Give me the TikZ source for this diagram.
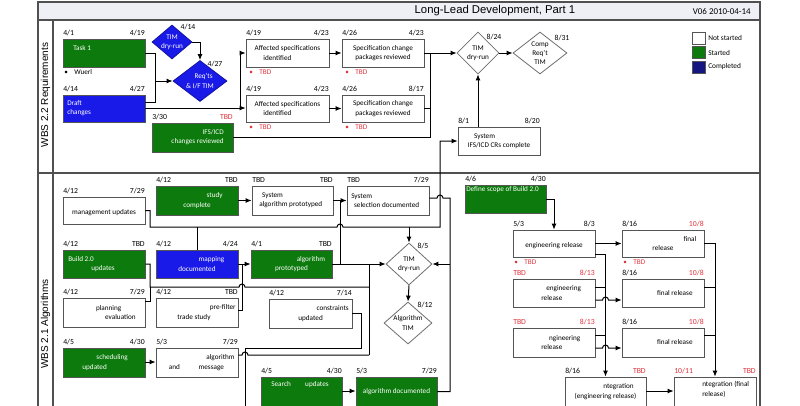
\documentclass[tikz,border=0pt]{standalone}
\usepackage{fontspec}
\setmainfont{Carlito}
\newfontfamily\arialfont{Liberation Sans}
\usetikzlibrary{shapes.geometric,arrows.meta}
\definecolor{gr}{RGB}{12,122,12}
\definecolor{bl}{RGB}{26,26,232}
\definecolor{navy}{RGB}{22,22,130}
\definecolor{tbd}{RGB}{222,50,60}
\definecolor{boxline}{RGB}{85,85,85}
\definecolor{dline}{RGB}{110,110,110}
\definecolor{framec}{RGB}{80,80,80}
\definecolor{titlebg}{RGB}{238,240,246}
\tikzset{
  box/.style={draw=boxline, line width=0.6pt, inner sep=0pt, font=\fontsize{5.4}{7}\selectfont, align=center},
  wbox/.style={box, fill=white},
  gbox/.style={box, fill=gr, text=white},
  bbox/.style={box, fill=bl, text=white},
  txt/.style={font=\fontsize{5.4}{7}\selectfont, inner sep=0pt, align=left},
  dt/.style={font=\fontsize{5.8}{7}\selectfont, inner sep=0pt},
  dmd/.style={diamond, draw=dline, line width=0.6pt, fill=white, inner sep=0pt},
  dlab/.style={font=\fontsize{5.4}{7}\selectfont, inner sep=0pt, align=center},
  con/.style={line width=0.75pt, draw=black},
  arr/.style={con, -{Latex[length=4.5pt,width=3.8pt]}},
  note/.style={font=\fontsize{5.4}{7}\selectfont, inner sep=0pt, anchor=west},
  framel/.style={draw=framec, line width=0.9pt},
  legsw/.style={draw=boxline, line width=0.6pt, inner sep=0pt, minimum width=9.75pt, minimum height=9pt},
  legt/.style={font=\fontsize{5.5}{7}\selectfont, inner sep=0pt, anchor=west}
}
\newcommand\bx[9]{%
  \node[#6, minimum width={(#4-#2)*0.75pt}, minimum height={(#5-#3)*0.75pt}] (#1) at ({(#2+#4)/2},{(#3+#5)/2}) {#7};
  \node[dt, anchor=base west] (#1-l) at (#2,#3-3.5) {#8};
  \node[dt, anchor=base east] (#1-r) at (#4,#3-3.5) {#9};}
\begin{document}
\begin{tikzpicture}[x=0.75pt,y=-0.75pt]
\useasboundingbox (0,0) rectangle (800,405);
\clip (0,0) rectangle (800,405);
% frame
\draw[framel] (38,2) rectangle (760,430);
\draw[framel, fill=titlebg] (38,2) rectangle (760,20);
\draw[framel] (53,20) -- (53,430);
\draw[framel] (38,173) -- (760,173);
\node[font=\arialfont\fontsize{8.5}{10}\selectfont, inner sep=0pt] (title) at (495,11) {Long-Lead Development, Part 1};
\node[font=\fontsize{6.7}{8}\selectfont, inner sep=0pt, anchor=east] (ver) at (751,12) {V06 2010-04-14};
\node[rotate=90, font=\arialfont\fontsize{7.5}{9}\selectfont, inner sep=0pt] (lane1) at (45.5,95) {WBS 2.2 Requirements};
\node[rotate=90, font=\arialfont\fontsize{7.5}{9}\selectfont, inner sep=0pt] (lane2) at (45.5,324) {WBS 2.1 Algorithms};
% legend
\node[legsw, fill=white] (lg1) at (698.5,38) {};
\node[legsw, fill=gr] (lg2) at (698.5,52.5) {};
\node[legsw, fill=navy] (lg3) at (698.5,67) {};
\node[legt] (lg1t) at (708,38) {Not started};
\node[legt] (lg2t) at (708,52.5) {Started};
\node[legt] (lg3t) at (708,67) {Completed};

% ---------- lane 1 ----------
\bx{task1}{63}{39}{145}{67}{gbox}{}{4/1}{4/19}
\node[txt, text=white, anchor=west] (task1t) at (73,48) {Task 1};
\node[note] (wuerl) at (64,72) {\textbullet\hspace{0.9em}Wuerl};
\bx{draft}{63}{95}{145}{122}{bbox}{}{4/14}{4/27}
\node[txt, text=white, anchor=west] (draftt) at (67,108) {Draft\\changes};
\bx{ifs}{152}{123}{233}{152}{gbox}{}{3/30}{\textcolor{tbd}{TBD}}
\node[txt, text=white, anchor=east, align=right] (ifst) at (224,137) {IFS/ICD\\changes reviewed};

\node[dmd, fill=bl, draw=bl!70!black, minimum width=30pt, minimum height=25.5pt,
  label={[dlab, text=white]center:TIM\\dry-run}] (tim1) at (172,42) {};
\node[dt] (tim1d) at (188,27) {4/14};
\node[dmd, fill=bl, draw=bl!70!black, minimum width=40.5pt, minimum height=30.75pt,
  label={[dlab, text=white]center:\hspace*{1em}Req'ts\\\& I/F TIM}] (req) at (200,81) {};
\node[dt] (reqd) at (215,64) {4/27};

\bx{aff1}{246}{39}{329}{67}{wbox}{Affected specifications\\identified\hspace*{2.8em}}{4/19}{4/23}
\node[note, text=tbd] (aff1n) at (249,72) {\textbullet\hspace{0.9em}TBD};
\bx{spec1}{342}{39}{424}{67}{wbox}{Specification change\\packages reviewed}{4/26}{4/23}
\node[note, text=tbd] (spec1n) at (345,72) {\textbullet\hspace{0.9em}TBD};
\bx{aff2}{246}{95}{329}{122}{wbox}{Affected specifications\\identified\hspace*{2.8em}}{4/19}{4/23}
\node[note, text=tbd] (aff2n) at (249,127) {\textbullet\hspace{0.9em}TBD};
\bx{spec2}{342}{95}{424}{122}{wbox}{Specification change\\packages reviewed}{4/26}{8/17}
\node[note, text=tbd] (spec2n) at (345,127) {\textbullet\hspace{0.9em}TBD};

\node[dmd, minimum width=31.5pt, minimum height=31.5pt, label={[dlab]center:TIM\\dry-run}] (tim3) at (478,53) {};
\node[dt] (tim3d) at (494,37) {8/24};
\node[dmd, minimum width=40.5pt, minimum height=31.5pt, label={[dlab]center:Comp\\Req't\\TIM}] (comp) at (540,53) {};
\node[dt] (compd) at (562,38) {8/31};
\bx{sysifs}{458}{127}{540}{155}{wbox}{System\hspace*{4em}\\IFS/ICD CRs complete}{8/1}{8/20}

% lane 1 connectors
\draw[con] (task1.east) -| (155,81);
\draw[con] (draft.east |- 0,102) -| (155,81);
\draw[arr] (155,81) -- (req.west);
\draw[arr] (tim1.east) -| (req.north);
\draw[arr] (draft.east |- 0,108) -- (aff2.west |- 0,108);
\draw[arr] (240,108) |- (aff1.west);
\draw[arr] (aff1) -- (spec1);
\draw[arr] (aff2) -- (spec2);
\draw[arr] (spec1.east) -- (tim3.west);
\draw[con] (spec2.east) -| (430,53);
\draw[con] (ifs.east) -| (430,108);
\draw[arr] (tim3) -- (comp);
\draw[arr] (tim3.south |- sysifs.north) -- (tim3.south);

% ---------- lane 2 ----------
\bx{mgmt}{63}{197}{145}{224}{wbox}{\mbox{}\\management updates}{4/12}{7/29}
\bx{study}{156}{186}{238}{215}{gbox}{\hspace*{4.9em}study\\complete}{4/12}{TBD}
\bx{salg}{252}{186}{333}{215}{wbox}{}{TBD}{TBD}
\node[txt, anchor=west] (salgt) at (259,200.5) {\hspace*{0.4em}System\\algorithm prototyped};
\bx{ssel}{347}{186}{429}{215}{wbox}{}{TBD}{7/29}
\node[txt, anchor=west] (sselt) at (351,200.5) {System\\\hspace*{0.4em}selection documented};

\bx{build}{63}{250}{145}{278}{gbox}{}{4/12}{TBD}
\node[txt, text=white, anchor=west] (buildt) at (68,264) {Build 2.0\\\hspace*{3.2em}updates};
\bx{map}{156}{250}{238}{278}{bbox}{\hspace*{4em}mapping\\documented}{4/12}{4/24}
\bx{aproto}{251}{250}{332}{278}{gbox}{\hspace*{5.4em}algorithm\\prototyped}{4/1}{TBD}

\bx{plan}{63}{298}{145}{327}{wbox}{}{4/12}{7/29}
\node[txt, anchor=east, align=right] (plant) at (136,312.5) {planning\hspace*{2em}\\evaluation};
\bx{pref}{156}{298}{238}{327}{wbox}{}{4/12}{TBD}
\node[txt, anchor=east, align=right] (preft) at (236,312.5) {pre-filter\\trade study\hspace*{3.5em}};
\bx{constr}{269}{299}{352}{328}{wbox}{}{4/12}{7/14}
\node[txt, anchor=east, align=right] (constrt) at (349,313.5) {constraints\\updated\hspace*{3.6em}};

\bx{sched}{63}{348}{145}{377}{gbox}{}{4/5}{4/30}
\node[txt, text=white, anchor=east, align=right] (schedt) at (128,362.5) {scheduling\\updated\hspace*{2.9em}};
\bx{algmsg}{156}{348}{238}{377}{wbox}{}{5/3}{7/29}
\node[txt, anchor=east, align=right] (algmsgt) at (235,362.5) {algorithm\\and\hspace*{2.6em}message\hspace*{1.5em}};

\bx{search}{261}{377}{342}{406}{gbox}{}{4/5}{4/30}
\node[txt, text=white, anchor=west] (searcht) at (271,385) {Search\hspace*{2em}updates};
\bx{adoc}{356}{377}{437}{406}{gbox}{algorithm documented}{5/3}{7/29}

\node[dmd, minimum width=34.5pt, minimum height=31.5pt, label={[dlab]center:TIM\\dry-run}] (tim2) at (409,264) {};
\node[dt] (tim2d) at (423,246) {8/5};
\node[dmd, minimum width=36pt, minimum height=31.5pt, label={[dlab]center:Algorithm\\TIM}] (atim) at (408,323) {};
\node[dt] (atimd) at (425,305) {8/12};

\bx{scope}{465}{185}{546}{213}{gbox}{}{4/6}{4/30}
\node[txt, text=white, anchor=west] (scopet) at (466,190) {Define scope of Build 2.0};
\bx{eng1}{513}{230}{595}{257}{wbox}{\mbox{}\\engineering release}{5/3}{8/3}
\node[note, text=tbd] (eng1n) at (514,262) {\textbullet\hspace{0.9em}TBD};
\bx{fin1}{622}{230}{704}{257}{wbox}{\hspace*{7.5em}final\\release}{8/16}{\textcolor{tbd}{10/8}}
\node[note, text=tbd] (fin1n) at (623,262) {\textbullet\hspace{0.9em}TBD};
\bx{eng2}{513}{279}{595}{307}{wbox}{}{\textcolor{tbd}{TBD}}{\textcolor{tbd}{8/13}}
\node[txt, anchor=west] (eng2t) at (541,293) {\hspace*{0.7em}engineering\\release};
\bx{fin2}{622}{279}{704}{307}{wbox}{\hspace*{3.3em}final release}{8/16}{\textcolor{tbd}{10/8}}
\bx{eng3}{513}{328}{595}{357}{wbox}{}{\textcolor{tbd}{TBD}}{\textcolor{tbd}{8/13}}
\node[txt, anchor=west] (eng3t) at (541,342.5) {\hspace*{1.1em}ngineering\\release};
\bx{fin3}{622}{328}{704}{357}{wbox}{\hspace*{3.3em}final release}{8/16}{\textcolor{tbd}{10/8}}
\bx{inte}{565}{377}{646}{406}{wbox}{\hspace*{3.6em}ntegration\\(engineering release)}{8/16}{\textcolor{tbd}{TBD}}
\bx{intf}{674}{377}{756}{406}{wbox}{}{\textcolor{tbd}{10/11}}{\textcolor{tbd}{TBD}}
\node[txt, anchor=west] (intft) at (702,389.5) {ntegration (final\\release)};

% lane 2 connectors
\draw[arr] (mgmt.east) -| (150,227) -- (337,227) arc[start angle=180, end angle=360, radius=3] -- (440,227) |- (sysifs.west);
\draw[con] (map.north) -- (map.north |- 0,227);
\draw[arr] (tim2.north |- 0,227) -- (tim2.north);
\draw[arr] (study) -- (salg);
\draw[arr] (salg) -- (ssel);
\draw[con] (340,200.5) -- (340,264);
\draw[arr] (map) -- (aproto);
\draw[arr] (aproto.east) -- (tim2.west);
\draw[con] (ssel.east |- 0,198) -- (437,198) arc[start angle=180, end angle=360, radius=3] -- (450,198) |- (adoc.east);
\draw[arr] (450,264) -- (tim2.east);
\draw[arr] (tim2.south) -- (atim.north);
\draw[con] (build.east) -| (150,287) -- (239,287) arc[start angle=180, end angle=360, radius=3] -- (369,287);
\draw[con] (plan.east |- 0,301) -| (150,287);
\draw[con] (pref.east |- 0,310) -| (242,264);
\draw[con] (369,264) -- (369,355);
\draw[con] (algmsg.east |- 0,355) -- (242,355) arc[start angle=180, end angle=360, radius=3] -- (369,355);
\draw[con] (constr.east) -| (361,348) -- (245,348) -- (245,420);
\draw[arr] (sched.east |- 0,362) -- (algmsg.west |- 0,362);
\draw[arr] (search.east |- 0,391) -- (adoc.west |- 0,391);

\draw[arr] (scope.east) -| (eng1.north);
\draw[arr] (eng1) -- (fin1);
\draw[arr] (eng1.east |- 0,254) -| (inte.north);
\draw[con] (eng2.east |- 0,287) -- (inte.north |- 0,287);
\draw[arr] (eng2.east |- 0,300) -- (602.5,300) arc[start angle=180, end angle=360, radius=3] -- (fin2.west |- 0,300);
\draw[con] (eng3.east |- 0,335) -- (inte.north |- 0,335);
\draw[arr] (eng3.east |- 0,348) -- (602.5,348) arc[start angle=180, end angle=360, radius=3] -- (fin3.west |- 0,348);
\draw[arr] (fin1.east) -| (intf.north);
\draw[con] (fin2.east |- 0,287) -- (intf.north |- 0,287);
\draw[con] (fin3.east |- 0,335) -- (intf.north |- 0,335);
\draw[arr] (inte.east |- 0,391) -- (intf.west |- 0,391);
\end{tikzpicture}
\end{document}
